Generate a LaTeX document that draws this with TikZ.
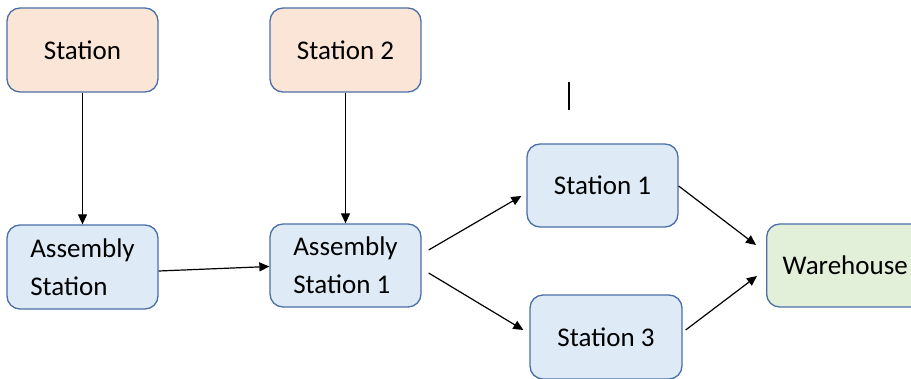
\documentclass[tikz,border=0pt]{standalone}
\usepackage{fontspec}
\setmainfont{Carlito}
\usetikzlibrary{arrows.meta}
\definecolor{boxline}{HTML}{4A6FA8}
\definecolor{orangefill}{HTML}{FBE5D6}
\definecolor{bluefill}{HTML}{DEEBF7}
\definecolor{greenfill}{HTML}{E2F0D9}
\tikzset{
  box/.style={draw=boxline, line width=1.3pt, rounded corners=13pt,
    minimum width=151pt, minimum height=84pt, inner sep=0pt,
    font=\fontsize{27}{38}\selectfont, text=black},
  orangebox/.style={box, fill=orangefill},
  bluebox/.style={box, fill=bluefill},
  greenbox/.style={box, fill=greenfill},
  conn/.style={line width=1.2pt, -{Triangle[length=10pt,width=9pt]}}
}
\begin{document}
\begin{tikzpicture}[x=1pt,y=-1pt]
\useasboundingbox (0,0) rectangle (911,378);
\clip (0,0) rectangle (911,378);
\node[orangebox] (st) at (82.5,50) {Station};
\node[orangebox] (st2) at (345.5,50) {Station 2};
\node[bluebox, align=left] (as) at (82.5,267) {Assembly\\Station};
\node[bluebox, align=left, minimum height=83pt] (as1) at (345.5,265.5) {Assembly\\Station 1};
\node[bluebox, minimum height=83pt] (s1) at (602.5,185.5) {Station 1};
\node[bluebox, minimum width=152pt] (s3) at (606,337) {Station 3};
\node[greenbox, anchor=west, inner xsep=16pt, minimum height=83pt] (wh) at (766,265.5) {Warehouse};
\coordinate (c1) at (569,82);
\coordinate (c2) at (569,110);
\draw[line width=1.3pt] (c1) -- (c2);
\draw[conn] (st.south) -- (as.north);
\draw[conn] (st2.south) -- (as1.north);
\draw[conn] ([yshift=-4pt]as.east) -- ([yshift=-1pt]as1.west);
\draw[conn] ([shift={(7,-15.5)}]as1.east) -- ([shift={(-5,10.5)}]s1.west);
\draw[conn] ([shift={(7,7.5)}]as1.east) -- ([shift={(-6,-7)}]s3.west);
\draw[conn] ([shift={(0,0.5)}]s1.east) -- ([shift={(-10,-20.5)}]wh.west);
\draw[conn] ([shift={(3,-7)}]s3.east) -- ([shift={(-9,10.5)}]wh.west);
\end{tikzpicture}
\end{document}
